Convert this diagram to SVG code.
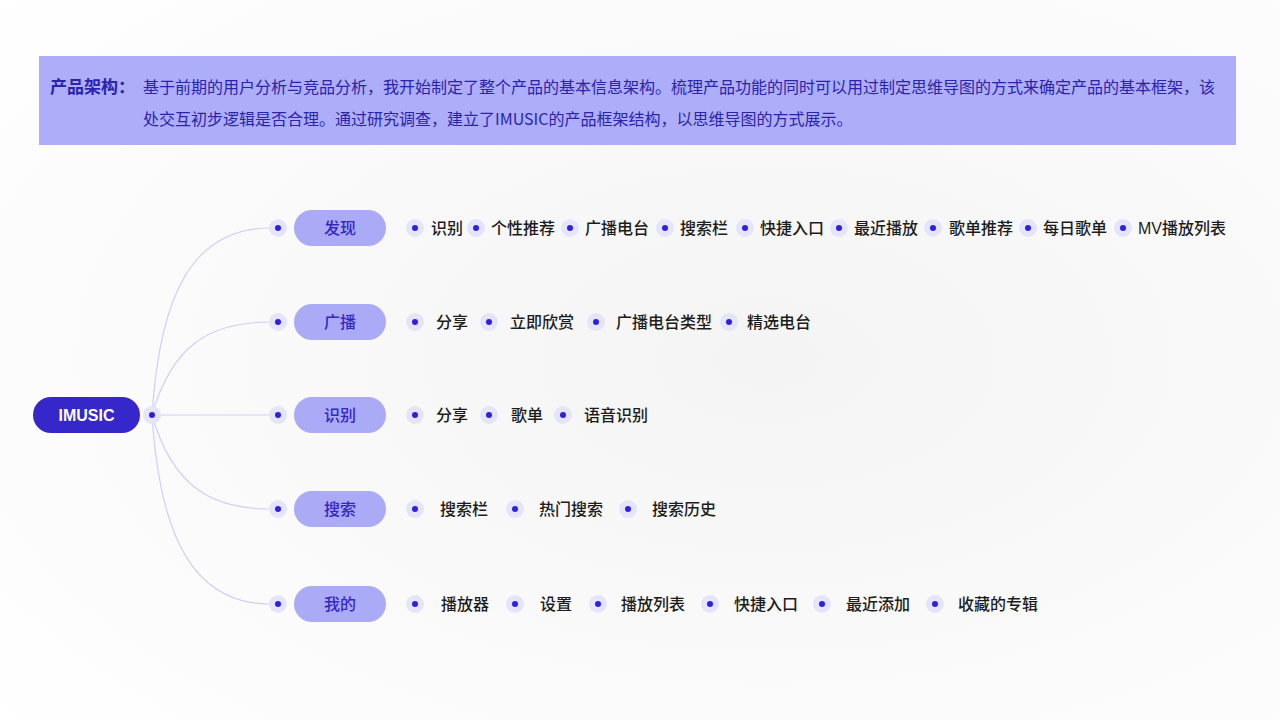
<svg xmlns="http://www.w3.org/2000/svg" width="1280" height="720" viewBox="0 0 1280 720">
<defs>
<style>
.hdr{font-family:"Noto Sans CJK SC","Liberation Sans",sans-serif;font-size:16px;fill:#2b24a8}
.ttl{font-family:"Noto Sans CJK SC","Liberation Sans",sans-serif;font-size:17px;font-weight:bold;fill:#2b24a8}
.cat rect{fill:#aaaaf7}
.cat text{font-family:"Noto Sans CJK SC","Liberation Sans",sans-serif;font-size:16px;font-weight:500;fill:#3527c0;text-anchor:middle}
.leaf{font-family:"Liberation Sans","Noto Sans CJK SC",sans-serif;font-size:16px;font-weight:500;fill:#1c1c1c}
.halo{fill:#e4e4fb}
.core{fill:#2f1fe0}
.conn path{fill:none;stroke:#cfcff6;stroke-width:1.2}
</style>
<radialGradient id="bg" cx="0.6" cy="0.5" r="0.8">
<stop offset="0" stop-color="#f4f4f4"/>
<stop offset="1" stop-color="#ffffff"/>
</radialGradient>
</defs>
<rect width="1280" height="720" fill="url(#bg)"/>
<g id="header">
<rect x="39" y="56" width="1197" height="89" fill="#adadf9"/>
<text class="ttl" x="50" y="93">产品架构：</text>
<text class="hdr" x="143" y="93" textLength="1072" lengthAdjust="spacingAndGlyphs">基于前期的用户分析与竞品分析，我开始制定了整个产品的基本信息架构。梳理产品功能的同时可以用过制定思维导图的方式来确定产品的基本框架，该</text>
<text class="hdr" x="143" y="125">处交互初步逻辑是否合理。通过研究调查，建立了IMUSIC的产品框架结构，以思维导图的方式展示。</text>
</g>
<g id="connectors" class="conn">
<path d="M152,415 C160,290 195,228 270,228"/>
<path d="M152,415 C172,345 210,322 270,322"/>
<path d="M152,415 L270,415"/>
<path d="M152,415 C172,485 210,509 270,509"/>
<path d="M152,415 C160,540 195,604 270,604"/>
</g>
<g id="root">
<rect x="33" y="397" width="107" height="36" rx="18" fill="#3527c9"/>
<text x="86.5" y="421" text-anchor="middle" font-family="Liberation Sans,sans-serif" font-size="16" font-weight="bold" fill="#ffffff">IMUSIC</text>
<circle class="halo" cx="152" cy="415" r="9"/><circle class="core" cx="152" cy="415" r="3"/>
</g>
<g id="cat-faxian" class="cat">
<circle class="halo" cx="278" cy="228" r="9"/><circle class="core" cx="278" cy="228" r="3"/>
<rect x="294" y="210" width="92" height="36" rx="18"/>
<text x="340" y="234">发现</text>
</g>
<g id="cat-guangbo" class="cat">
<circle class="halo" cx="278" cy="322" r="9"/><circle class="core" cx="278" cy="322" r="3"/>
<rect x="294" y="304" width="92" height="36" rx="18"/>
<text x="340" y="328">广播</text>
</g>
<g id="cat-shibie" class="cat">
<circle class="halo" cx="278" cy="415" r="9"/><circle class="core" cx="278" cy="415" r="3"/>
<rect x="294" y="397" width="92" height="36" rx="18"/>
<text x="340" y="421">识别</text>
</g>
<g id="cat-sousuo" class="cat">
<circle class="halo" cx="278" cy="509" r="9"/><circle class="core" cx="278" cy="509" r="3"/>
<rect x="294" y="491" width="92" height="36" rx="18"/>
<text x="340" y="515">搜索</text>
</g>
<g id="cat-wode" class="cat">
<circle class="halo" cx="278" cy="604" r="9"/><circle class="core" cx="278" cy="604" r="3"/>
<rect x="294" y="586" width="92" height="36" rx="18"/>
<text x="340" y="610">我的</text>
</g>
<g id="leaves-faxian">
<circle class="halo" cx="415" cy="228" r="9"/><circle class="core" cx="415" cy="228" r="3"/><text class="leaf" x="431" y="234">识别</text>
<circle class="halo" cx="476" cy="228" r="9"/><circle class="core" cx="476" cy="228" r="3"/><text class="leaf" x="491" y="234">个性推荐</text>
<circle class="halo" cx="570" cy="228" r="9"/><circle class="core" cx="570" cy="228" r="3"/><text class="leaf" x="585" y="234">广播电台</text>
<circle class="halo" cx="665" cy="228" r="9"/><circle class="core" cx="665" cy="228" r="3"/><text class="leaf" x="680" y="234">搜索栏</text>
<circle class="halo" cx="745" cy="228" r="9"/><circle class="core" cx="745" cy="228" r="3"/><text class="leaf" x="760" y="234">快捷入口</text>
<circle class="halo" cx="839" cy="228" r="9"/><circle class="core" cx="839" cy="228" r="3"/><text class="leaf" x="854" y="234">最近播放</text>
<circle class="halo" cx="933" cy="228" r="9"/><circle class="core" cx="933" cy="228" r="3"/><text class="leaf" x="949" y="234">歌单推荐</text>
<circle class="halo" cx="1028" cy="228" r="9"/><circle class="core" cx="1028" cy="228" r="3"/><text class="leaf" x="1043" y="234">每日歌单</text>
<circle class="halo" cx="1123" cy="228" r="9"/><circle class="core" cx="1123" cy="228" r="3"/><text class="leaf" x="1138" y="234">MV播放列表</text>
</g>
<g id="leaves-guangbo">
<circle class="halo" cx="415" cy="322" r="9"/><circle class="core" cx="415" cy="322" r="3"/><text class="leaf" x="436" y="328">分享</text>
<circle class="halo" cx="489" cy="322" r="9"/><circle class="core" cx="489" cy="322" r="3"/><text class="leaf" x="510" y="328">立即欣赏</text>
<circle class="halo" cx="596" cy="322" r="9"/><circle class="core" cx="596" cy="322" r="3"/><text class="leaf" x="616" y="328">广播电台类型</text>
<circle class="halo" cx="729" cy="322" r="9"/><circle class="core" cx="729" cy="322" r="3"/><text class="leaf" x="747" y="328">精选电台</text>
</g>
<g id="leaves-shibie">
<circle class="halo" cx="415" cy="415" r="9"/><circle class="core" cx="415" cy="415" r="3"/><text class="leaf" x="436" y="421">分享</text>
<circle class="halo" cx="489" cy="415" r="9"/><circle class="core" cx="489" cy="415" r="3"/><text class="leaf" x="511" y="421">歌单</text>
<circle class="halo" cx="563" cy="415" r="9"/><circle class="core" cx="563" cy="415" r="3"/><text class="leaf" x="584" y="421">语音识别</text>
</g>
<g id="leaves-sousuo">
<circle class="halo" cx="415" cy="509" r="9"/><circle class="core" cx="415" cy="509" r="3"/><text class="leaf" x="440" y="515">搜索栏</text>
<circle class="halo" cx="515" cy="509" r="9"/><circle class="core" cx="515" cy="509" r="3"/><text class="leaf" x="539" y="515">热门搜索</text>
<circle class="halo" cx="628" cy="509" r="9"/><circle class="core" cx="628" cy="509" r="3"/><text class="leaf" x="652" y="515">搜索历史</text>
</g>
<g id="leaves-wode">
<circle class="halo" cx="415" cy="604" r="9"/><circle class="core" cx="415" cy="604" r="3"/><text class="leaf" x="441" y="610">播放器</text>
<circle class="halo" cx="515" cy="604" r="9"/><circle class="core" cx="515" cy="604" r="3"/><text class="leaf" x="540" y="610">设置</text>
<circle class="halo" cx="598" cy="604" r="9"/><circle class="core" cx="598" cy="604" r="3"/><text class="leaf" x="621" y="610">播放列表</text>
<circle class="halo" cx="710" cy="604" r="9"/><circle class="core" cx="710" cy="604" r="3"/><text class="leaf" x="734" y="610">快捷入口</text>
<circle class="halo" cx="822" cy="604" r="9"/><circle class="core" cx="822" cy="604" r="3"/><text class="leaf" x="846" y="610">最近添加</text>
<circle class="halo" cx="935" cy="604" r="9"/><circle class="core" cx="935" cy="604" r="3"/><text class="leaf" x="958" y="610">收藏的专辑</text>
</g>
</svg>
